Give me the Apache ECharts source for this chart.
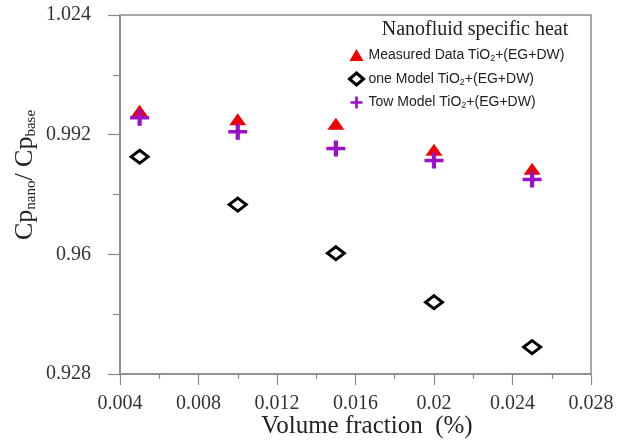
<!DOCTYPE html>
<html>
<head>
<meta charset="utf-8">
<script src="https://cdn.jsdelivr.net/npm/echarts@6/dist/echarts.min.js"></script>
<style>html,body{margin:0;padding:0;background:#fff;}#c{width:617px;height:443px;}</style>
</head>
<body>
<div id="c"></div>
<script>
// Data
const xValues = [0.005, 0.01, 0.015, 0.02, 0.025];
const measured = [0.9984, 0.9961, 0.9949, 0.9880, 0.9829];
const oneModel = [0.9861, 0.9733, 0.9603, 0.9472, 0.9352];
const towModel = [0.9965, 0.9928, 0.9883, 0.9851, 0.9800];
const seriesNames = ['Measured Data TiO2+(EG+DW)', 'one Model TiO2+(EG+DW)', 'Tow Model TiO2+(EG+DW)'];
const legendTitle = 'Nanofluid specific heat';
const xTitle = 'Volume fraction  (%)';

const pair = (ys) => xValues.map((x, i) => [x, ys[i]]);
const plusPath = 'path://M7,0H11V7H18V11H11V18H7V11H0V7H7Z';
const axisGray = '#8a8a8a';
const serif = 'Liberation Serif';

const chart = echarts.init(document.getElementById('c'), null, {renderer: 'canvas'});
chart.setOption({
  animation: false,
  backgroundColor: '#fff',
  grid: {left: 120, right: 26, top: 15, bottom: 69, show: true, borderColor: axisGray, borderWidth: 1.5},
  xAxis: {
    type: 'value', min: 0.004, max: 0.028, interval: 0.004,
    axisLine: {show: true, lineStyle: {color: axisGray, width: 1.5}},
    axisTick: {show: true, length: 11, lineStyle: {color: axisGray, width: 1.2}},
    minorTick: {show: true, splitNumber: 2, length: 5, lineStyle: {color: axisGray, width: 1.2}},
    splitLine: {show: false},
    axisLabel: {fontFamily: serif, fontSize: 20, color: '#333', margin: 20,
      formatter: v => String(+v.toFixed(3))}
  },
  yAxis: {
    type: 'value', min: 0.928, max: 1.024, interval: 0.032,
    axisLine: {show: true, lineStyle: {color: axisGray, width: 1.5}},
    axisTick: {show: true, length: 12, lineStyle: {color: axisGray, width: 1.2}},
    minorTick: {show: true, splitNumber: 2, length: 7, lineStyle: {color: axisGray, width: 1.2}},
    splitLine: {show: false},
    axisLabel: {fontFamily: serif, fontSize: 20, color: '#333', margin: 29,
      formatter: v => String(+v.toFixed(3))}
  },
  legend: {
    orient: 'vertical', left: 343, top: 43, itemWidth: 14, itemHeight: 12, itemGap: 8.5,
    data: [
      {name: seriesNames[0]},
      {name: seriesNames[1], itemStyle: {borderWidth: 3, borderColor: '#000', color: '#fff'}},
      {name: seriesNames[2]}
    ],
    formatter: n => n.replace('TiO2', 'TiO{sub|2}'),
    textStyle: {fontFamily: 'Liberation Sans', fontSize: 14, color: '#222',
      rich: {sub: {fontFamily: 'Liberation Sans', fontSize: 9, color: '#222', padding: [7, 0, 0, 0]}}}
  },
  graphic: [
    {type: 'text', x: 475, y: 30, style: {text: legendTitle, fontFamily: serif, fontSize: 20, fill: '#222', align: 'center', verticalAlign: 'middle'}},
    {type: 'text', x: 367, y: 426, style: {text: xTitle, fontFamily: serif, fontSize: 25, fill: '#222', align: 'center', verticalAlign: 'middle'}},
    {type: 'text', x: 25, y: 175, rotation: Math.PI / 2,
      style: {text: 'Cp{sub|nano}/ Cp{sub|base}', fontFamily: serif, fontSize: 26, fill: '#222', align: 'center', verticalAlign: 'middle',
        rich: {sub: {fontFamily: serif, fontSize: 15, fill: '#222', padding: [12, 0, 0, 0]}}}}
  ],
  series: [
    {name: seriesNames[0], type: 'scatter', data: pair(measured), symbol: 'triangle', symbolSize: [17, 12],
      itemStyle: {color: '#f00000', opacity: 1}, z: 3},
    {name: seriesNames[1], type: 'scatter', data: pair(oneModel), symbol: 'diamond', symbolSize: [17, 13],
      itemStyle: {color: '#fff', borderColor: '#000', borderWidth: 3, opacity: 1}, z: 2},
    {name: seriesNames[2], type: 'scatter', data: pair(towModel), symbol: plusPath, symbolSize: [19, 16],
      itemStyle: {color: '#9a10c8', opacity: 1}, z: 4}
  ]
});
</script>
</body>
</html>
